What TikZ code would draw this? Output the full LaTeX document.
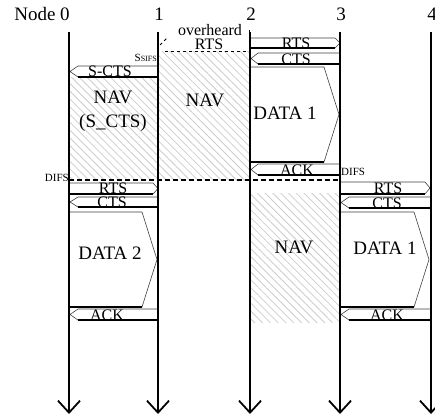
\documentclass[tikz,border=0pt]{standalone}
\usepackage{fontspec}
\setmainfont{Liberation Serif}
\usetikzlibrary{arrows.meta,patterns.meta}
\tikzstyle{timeline} = [draw,line width=1.8pt,-{Straight Barb[length=12pt,width=22pt]}]
\tikzstyle{pkt} = [draw=black!75,line width=0.6pt,fill=white]
\tikzstyle{pktbase} = [draw,line width=1.4pt]
\tikzstyle{nav} = [pattern={Lines[angle=-45,distance=5.5pt,line width=0.8pt]},pattern color=gray!40]
\tikzstyle{difs} = [draw,line width=1.6pt,dash pattern=on 5pt off 3pt]
\tikzstyle{ctl} = [font=\fontsize{16}{16}\selectfont,inner sep=0pt]
\tikzstyle{biglbl} = [font=\fontsize{19}{24}\selectfont,inner sep=0pt,align=center]
\tikzstyle{smalllbl} = [font=\fontsize{11}{11}\selectfont,inner sep=0pt]

\begin{document}
\begin{tikzpicture}[x=1pt,y=-1pt]
    \useasboundingbox (0,0) rectangle (435,418);
    % node names and time lines
    \node[biglbl] (lbl0) at (42,14) {Node 0};
    \node[biglbl] (lbl1) at (159,14) {1};
    \node[biglbl] (lbl2) at (251,14) {2};
    \node[biglbl] (lbl3) at (341,14) {3};
    \node[biglbl] (lbl4) at (432,14) {4};
    \coordinate (t0) at (69,32);  \coordinate (b0) at (69,414);
    \coordinate (t1) at (158,32); \coordinate (b1) at (158,414);
    \coordinate (t2) at (250,32); \coordinate (b2) at (250,414);
    \coordinate (t3) at (340,32); \coordinate (b3) at (340,414);
    \coordinate (t4) at (431,32); \coordinate (b4) at (431,414);

    % NAV periods
    \path[nav] (69,77) rectangle (158,180);
    \path[nav] (158,51) rectangle (250,180);
    \path[nav] (250,193) rectangle (340,322);

    % overheard RTS
    \draw[dashed,line width=0.8pt] (160,45) -- (167,38);
    \draw[dashed,line width=0.8pt] (165,51) -- (249,51) -- (249,30);
    \node[ctl] (ovh) at (210,30) {overheard};
    \node[ctl] (orts) at (209,44) {RTS};
    \node[smalllbl,anchor=base east] (sifs) at (157,61) {S{\fontsize{8}{8}\selectfont SIFS}};

    % first exchange, node 2 to node 3
    \draw[pkt] (250,38) -- (335,38) -- (340,43) -- (335,48) -- (250,48) -- cycle;
    \draw[pktbase] (250,48) -- (335,48);
    \draw[pkt] (340,53) -- (258,53) -- (251,58.5) -- (258,64) -- (340,64) -- cycle;
    \draw[pktbase] (258,64) -- (340,64);
    \draw[pkt] (250,67) -- (324,67) -- (339,114.5) -- (324,162) -- (250,162) -- cycle;
    \draw[pktbase] (250,162) -- (324,162);
    \draw[pkt] (340,164) -- (258,164) -- (251,169.5) -- (258,175) -- (340,175) -- cycle;
    \draw[pktbase] (258,175) -- (340,175);
    \node[ctl] (rts1) at (296,43) {RTS};
    \node[ctl] (cts1) at (296,59) {CTS};
    \node[biglbl] (data1) at (285,113) {DATA 1};
    \node[ctl] (ack1) at (297,170) {ACK};

    % S-CTS from node 1
    \draw[pkt] (158,66) -- (78,66) -- (70,71.5) -- (78,77) -- (158,77) -- cycle;
    \draw[pktbase] (78,77) -- (158,77);
    \node[ctl] (scts) at (110,71.5) {S-CTS};
    \node[biglbl] (nav0) at (113,111) {NAV\\(S\_CTS)};
    \node[biglbl] (nav1) at (205,100) {NAV};

    % DIFS
    \draw[difs] (69,180) -- (340,180);
    \node[smalllbl,anchor=base east] (difs0) at (69,181) {DIFS};
    \node[smalllbl,anchor=base west] (difs3) at (341,175) {DIFS};

    % second exchange, node 0 to node 1
    \draw[pkt] (69,183) -- (153,183) -- (158,188.5) -- (153,194) -- (69,194) -- cycle;
    \draw[pktbase] (69,194) -- (153,194);
    \draw[pkt] (158,197) -- (78,197) -- (70,202) -- (78,207) -- (158,207) -- cycle;
    \draw[pktbase] (78,207) -- (158,207);
    \draw[pkt] (69,212) -- (142,212) -- (157,259.5) -- (142,307) -- (69,307) -- cycle;
    \draw[pktbase] (69,307) -- (142,307);
    \draw[pkt] (158,309) -- (78,309) -- (70,314.5) -- (78,320) -- (158,320) -- cycle;
    \draw[pktbase] (78,320) -- (158,320);
    \node[ctl] (rts2) at (113,188.5) {RTS};
    \node[ctl] (cts2) at (112,202.5) {CTS};
    \node[biglbl] (data2) at (110,253) {DATA 2};
    \node[ctl] (ack2) at (107,315) {ACK};

    % third exchange, node 3 to node 4
    \draw[pkt] (340,182) -- (425,182) -- (430,188) -- (425,194) -- (340,194) -- cycle;
    \draw[pktbase] (340,194) -- (425,194);
    \draw[pkt] (431,197) -- (349,197) -- (341,202.5) -- (349,208) -- (431,208) -- cycle;
    \draw[pktbase] (349,208) -- (431,208);
    \draw[pkt] (340,212) -- (414,212) -- (429,259.5) -- (414,307) -- (340,307) -- cycle;
    \draw[pktbase] (340,307) -- (414,307);
    \draw[pkt] (431,309) -- (349,309) -- (341,314.5) -- (349,320) -- (431,320) -- cycle;
    \draw[pktbase] (349,320) -- (431,320);
    \node[ctl] (rts3) at (388,188) {RTS};
    \node[ctl] (cts3) at (387,203) {CTS};
    \node[biglbl] (data3) at (385,248) {DATA 1};
    \node[ctl] (ack3) at (387,315) {ACK};
    \node[biglbl] (nav2) at (294,247) {NAV};

    \draw[timeline] (t0) -- (b0);
    \draw[timeline] (t1) -- (b1);
    \draw[timeline] (t2) -- (b2);
    \draw[timeline] (t3) -- (b3);
    \draw[timeline] (t4) -- (b4);
\end{tikzpicture}
\end{document}
